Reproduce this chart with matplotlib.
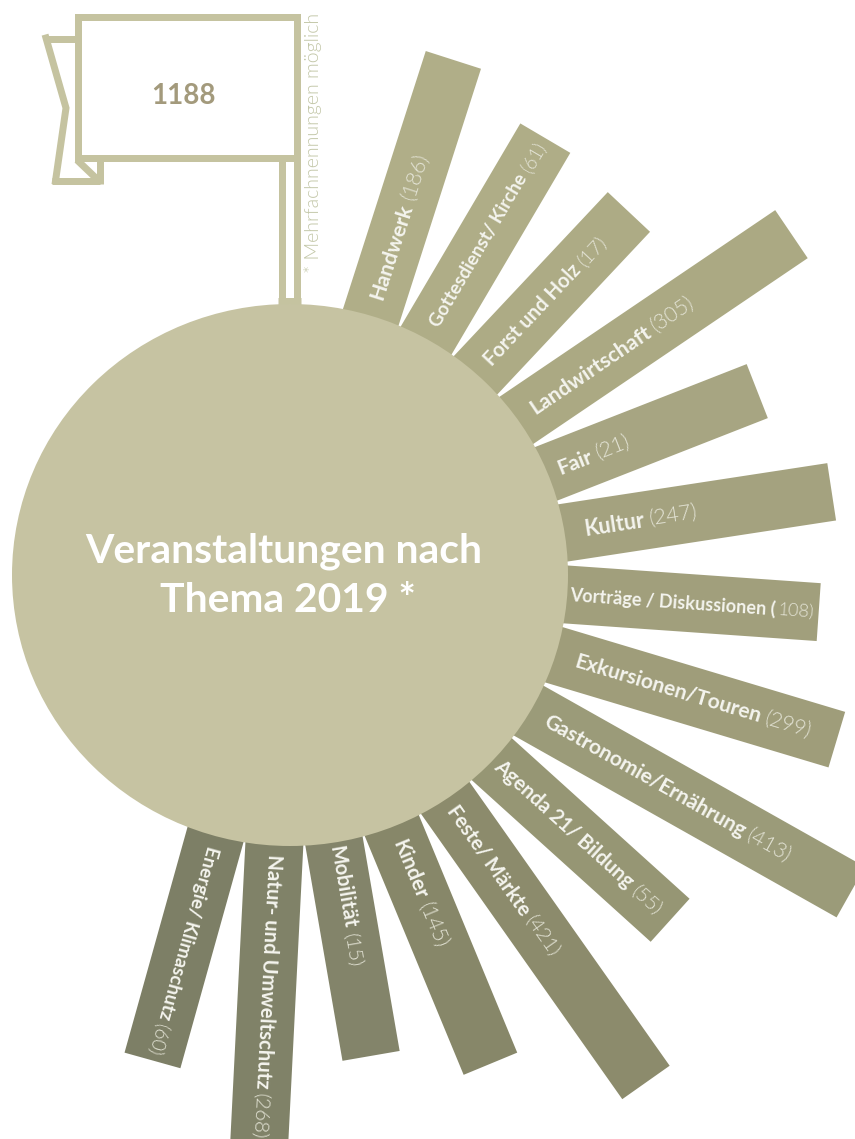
import numpy as np
from matplotlib import pyplot as plt
from matplotlib.patches import Ellipse, Rectangle

plt.rcParams['font.family'] = ['Lato', 'DejaVu Sans']

names = ['Handwerk', 'Gottesdienst/ Kirche', 'Forst und Holz', 'Landwirtschaft', 'Fair', 'Kultur',
         'Vorträge / Diskussionen (', 'Exkursionen/Touren', 'Gastronomie/Ernährung', 'Agenda 21/ Bildung',
         'Feste/ Märkte', 'Kinder', 'Mobilität', 'Natur- und Umweltschutz', 'Energie/ Klimaschutz']
counts = [186, 61, 17, 305, 21, 247, 108, 299, 413, 55, 421, 145, 15, 268, 60]
total = 1188
# bar reach from the circle centre
reach = [541, 507, 498, 608, 504, 550, 532, 573, 646, 515, 621, 529, 488, 600, 504]
bar_colors = ['#b0ae88', '#afad87', '#adab85', '#aba983', '#a7a582', '#a4a27f', '#a19f7c', '#9f9d7a',
              '#9b9b79', '#969674', '#8c8b6c', '#878769', '#83846a', '#808268', '#7d7f66']

# layout
start_r = [290, 289, 291, 294, 290, 300, 282, 300, 295, 282, 284, 288, 275, 280, 282]
label_size = [15.3, 13.4, 14.4, 15.3, 15.3, 15.5, 13.1, 15.2, 15.25, 14.6, 14.6, 15, 14.6, 14.6, 13.6]
first_angle, step = 17.8, 12.7
cx, cy = 288, 575
bar_w = 58
frame = '#c5c3a0'

fig = plt.figure(figsize=(8.55, 11.39), dpi=100)
ax = fig.add_axes([0, 0, 1, 1])
ax.set_xlim(0, 855)
ax.set_ylim(1139, 0)
ax.axis('off')

rend = fig.canvas.get_renderer()

for i in range(len(names)):
    a = np.radians(first_angle + step*i)
    d = np.array([np.sin(a), -np.cos(a)])
    n = np.array([np.cos(a), np.sin(a)])
    c = np.array([cx, cy])
    p1 = c + d*150 - n*bar_w/2
    p2 = c + d*reach[i] - n*bar_w/2
    p3 = c + d*reach[i] + n*bar_w/2
    p4 = c + d*150 + n*bar_w/2
    ax.fill([p1[0], p2[0], p3[0], p4[0]], [p1[1], p2[1], p3[1], p4[1]], color=bar_colors[i], lw=0, zorder=1)

    rot = 90 - (first_angle + step*i)
    pos = c + d*start_r[i]
    t = ax.text(pos[0], pos[1], names[i], color='#f4f4ee', fontsize=label_size[i], fontweight='bold',
                rotation=rot, rotation_mode='anchor', ha='left', va='center', zorder=3)
    # measure the unrotated width so the count can follow the name
    t.set_rotation(0)
    w = t.get_window_extent(rend).width
    t.set_rotation(rot)
    gap = 2 if names[i].endswith('(') else 5
    pos2 = pos + d*(w + gap)
    cnt = f'{counts[i]})' if names[i].endswith('(') else f'({counts[i]})'
    ax.text(pos2[0], pos2[1], cnt, color='#e4e4d6', fontsize=label_size[i], fontweight=300,
            rotation=rot, rotation_mode='anchor', ha='left', va='center', zorder=3)

ax.add_patch(Ellipse((cx + 2, cy), 556, 542, color='#c6c3a2', lw=0, zorder=2))
ax.text(284, 551, 'Veranstaltungen nach', color='white', fontsize=29.4, fontweight='bold', ha='center', va='center', zorder=4)
ax.text(288, 600, 'Thema 2019 *', color='white', fontsize=29.4, fontweight='bold', ha='center', va='center', zorder=4)

# flag
lw = 7*72/100
ax.plot([46, 78], [38.5, 38.5], color=frame, lw=lw, solid_capstyle='butt', zorder=1)
ax.plot([46, 66, 55.5], [38, 108, 181], color=frame, lw=lw, solid_joinstyle='miter', zorder=1)
ax.plot([52, 100], [181, 181], color=frame, lw=lw, solid_capstyle='butt', zorder=1)
ax.plot([77, 99], [160, 181], color=frame, lw=lw, solid_capstyle='butt', zorder=1)
ax.plot([99.5, 99.5], [158, 184], color=frame, lw=lw, solid_capstyle='butt', zorder=1)
ax.add_patch(Rectangle((77.5, 17), 219.5, 141, fill=False, ec=frame, lw=lw, joinstyle='miter', zorder=1))
ax.plot([281.5, 281.5], [158, 310], color=frame, lw=lw, solid_capstyle='butt', zorder=1)
ax.plot([297.3, 297.3], [158, 310], color=frame, lw=lw, solid_capstyle='butt', zorder=1)
ax.plot([278, 301], [301, 301], color=frame, lw=lw, solid_capstyle='butt', zorder=1)
ax.text(183, 96, str(total), color='#a39a7c', fontsize=20, fontweight='bold', ha='center', va='center')
ax.text(313, 143, '* Mehrfachnennungen möglich', color='#c3c7a8', fontsize=14, fontweight=300,
        rotation=90, ha='center', va='center')

fig.savefig('out.png', dpi=100)
